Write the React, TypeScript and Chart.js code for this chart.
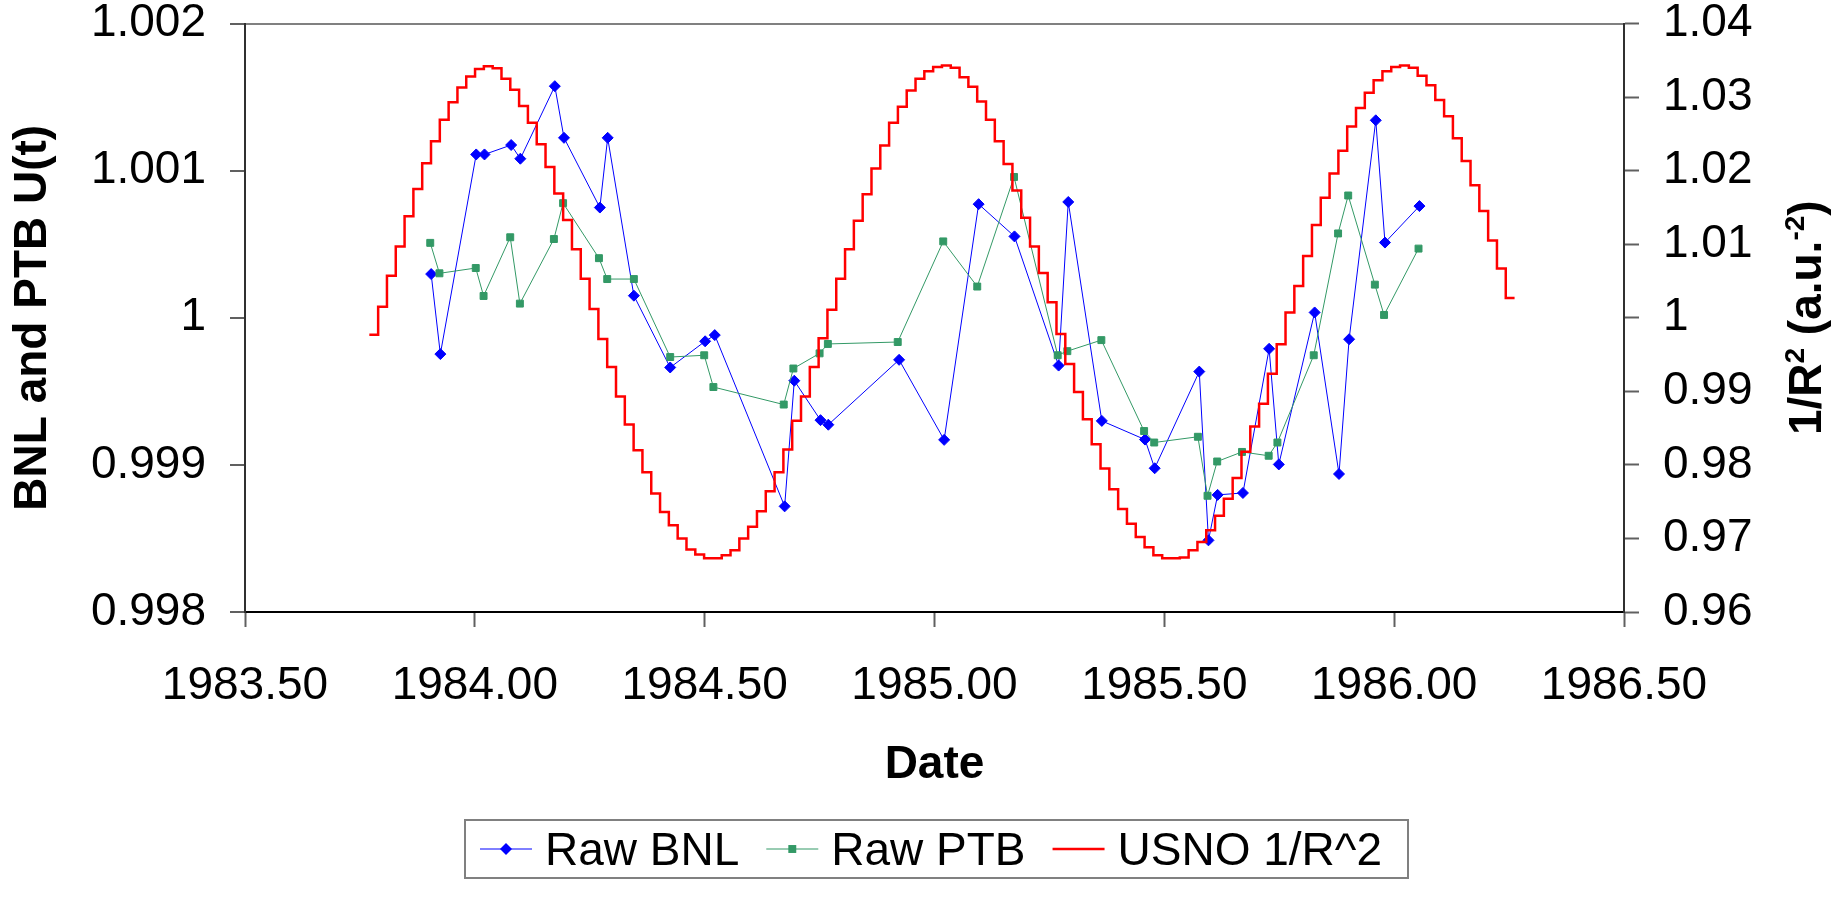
import React, { useEffect, useRef } from 'react';
import { Chart, registerables } from 'chart.js';

Chart.register(...registerables);

// ---------- data ----------
const SERIES_NAMES = ['Raw BNL', 'Raw PTB', 'USNO 1/R^2'];

const BNL_DATES = [
  1983.905, 1983.925, 1984.003, 1984.021, 1984.079, 1984.099, 1984.174, 1984.194,
  1984.272, 1984.289, 1984.346, 1984.425, 1984.501, 1984.522, 1984.674, 1984.695,
  1984.752, 1984.769, 1984.923, 1985.021, 1985.096, 1985.174, 1985.270, 1985.291,
  1985.364, 1985.458, 1985.479, 1985.576, 1985.596, 1985.616, 1985.671, 1985.728,
  1985.749, 1985.827, 1985.880, 1985.902, 1985.960, 1985.980, 1986.055,
];
const BNL_VALUES = [
  1.000297, 0.999753, 1.00111, 1.00111, 1.001174, 1.001081, 1.001574, 1.001223,
  1.000749, 1.001223, 1.00015, 0.999662, 0.99984, 0.999882, 0.998718, 0.999572,
  0.999304, 0.999273, 0.999714, 0.99917, 1.000772, 1.000553, 0.999675, 1.000787,
  0.999299, 0.999172, 0.998977, 0.999634, 0.998487, 0.998796, 0.998809, 0.999789,
  0.999003, 1.000036, 0.998938, 0.999854, 1.001342, 1.000511, 1.000759,
];

const PTB_DATES = [
  1983.903, 1983.923, 1984.002, 1984.019, 1984.077, 1984.098, 1984.172, 1984.192,
  1984.270, 1984.288, 1984.346, 1984.425, 1984.499, 1984.519, 1984.672, 1984.693,
  1984.750, 1984.768, 1984.920, 1985.019, 1985.093, 1985.173, 1985.268, 1985.289,
  1985.363, 1985.456, 1985.478, 1985.573, 1985.594, 1985.615, 1985.669, 1985.727,
  1985.746, 1985.825, 1985.878, 1985.900, 1985.958, 1985.978, 1986.053,
];
const PTB_VALUES = [
  1.000509, 1.000302, 1.000338, 1.000148, 1.000547, 1.000096, 1.000535, 1.000779,
  1.000405, 1.000263, 1.000263, 0.999733, 0.999745, 0.999529, 0.99941, 0.999655,
  0.999758, 0.999822, 0.999835, 1.000519, 1.000212, 1.000957, 0.999745, 0.999773,
  0.999848, 0.99923, 0.999152, 0.999191, 0.99879, 0.999023, 0.999088, 0.999062,
  0.999152, 0.999745, 1.000573, 1.000831, 1.000225, 1.000019, 1.00047,
];

// USNO 1/R^2: weekly step values (one value per week, starting at USNO_START)
const USNO_START = 1983.7705;
const USNO_WEEK = 7 / 365.25;
const USNO_VALUES = [
  0.9977, 1.0015, 1.0057, 1.0097, 1.0138, 1.0175, 1.0210, 1.0240, 1.0269, 1.0293,
  1.0313, 1.0328, 1.0338, 1.0342, 1.0339, 1.0325, 1.0310, 1.0288, 1.0265, 1.0236,
  1.0205, 1.0169, 1.0133, 1.0093, 1.0053, 1.0012, 0.9971, 0.9933, 0.9893, 0.9855,
  0.9820, 0.9790, 0.9761, 0.9736, 0.9718, 0.9700, 0.9685, 0.9678, 0.9673, 0.9673,
  0.9677, 0.9684, 0.9700, 0.9716, 0.9737, 0.9764, 0.9790, 0.9821, 0.9860, 0.9893,
  0.9933, 0.9972, 1.0011, 1.0053, 1.0093, 1.0132, 1.0168, 1.0203, 1.0234, 1.0265,
  1.0287, 1.0309, 1.0325, 1.0335, 1.0341, 1.0343, 1.0340, 1.0327, 1.0314, 1.0294,
  1.0269, 1.0240, 1.0209, 1.0173, 1.0136, 1.0097, 1.0061, 1.0021, 0.9978, 0.9937,
  0.9899, 0.9862, 0.9828, 0.9795, 0.9767, 0.9740, 0.9720, 0.9702, 0.9688, 0.9677,
  0.9673, 0.9673, 0.9674, 0.9684, 0.9695, 0.9711, 0.9731, 0.9754, 0.9782, 0.9818,
  0.9852, 0.9883, 0.9924, 0.9964, 1.0007, 1.0043, 1.0084, 1.0126, 1.0163, 1.0196,
  1.0227, 1.0260, 1.0285, 1.0306, 1.0323, 1.0335, 1.0341, 1.0343, 1.0340, 1.0329,
  1.0316, 1.0296, 1.0274, 1.0244, 1.0213, 1.0180, 1.0145, 1.0105, 1.0067, 1.0027,
];

const X_TICKS = [1983.5, 1984, 1984.5, 1985, 1985.5, 1986, 1986.5];
const X_TICK_LABELS = ['1983.50', '1984.00', '1984.50', '1985.00', '1985.50', '1986.00', '1986.50'];
const LEFT_TICKS = [0.998, 0.999, 1, 1.001, 1.002];
const LEFT_TICK_LABELS = ['0.998', '0.999', '1', '1.001', '1.002'];
const RIGHT_TICKS = [0.96, 0.97, 0.98, 0.99, 1, 1.01, 1.02, 1.03, 1.04];
const RIGHT_TICK_LABELS = ['0.96', '0.97', '0.98', '0.99', '1', '1.01', '1.02', '1.03', '1.04'];

// ---------- styling ----------
const FAMILY = '"Liberation Sans", Arial, Helvetica, sans-serif';
const W = 1845;
const H = 897;

const overlayPlugin = {
  id: 'overlay',
  afterDraw(chart: any) {
    const ctx: CanvasRenderingContext2D = chart.ctx;
    const area = chart.chartArea;
    const y1 = chart.scales.y1;

    // right axis title, reading bottom to top, with superscripts
    ctx.save();
    ctx.fillStyle = '#000';
    const big = `bold 46px ${FAMILY}`;
    const small = `bold 28px ${FAMILY}`;
    const parts = [
      { t: '1/R', sup: false },
      { t: '2', sup: true },
      { t: ' (a.u.', sup: false },
      { t: '-2', sup: true },
      { t: ')', sup: false },
    ];
    let total = 0;
    const widths: number[] = [];
    for (const p of parts) {
      ctx.font = p.sup ? small : big;
      const w = ctx.measureText(p.t).width;
      widths.push(w);
      total += w;
    }
    const cy = (area.top + area.bottom) / 2;
    ctx.translate(y1.right - 24, cy);
    ctx.rotate(-Math.PI / 2);
    ctx.textBaseline = 'alphabetic';
    ctx.textAlign = 'left';
    let tx = -total / 2;
    parts.forEach((p, i) => {
      ctx.font = p.sup ? small : big;
      ctx.fillText(p.t, tx, p.sup ? -17 : 0);
      tx += widths[i];
    });
    ctx.restore();

    // legend
    ctx.save();
    const boxTop = 820;
    const boxH = 58;
    const lineY = 849;
    const textY = 865;
    let x = 480;
    ctx.font = `46px ${FAMILY}`;
    ctx.textBaseline = 'alphabetic';
    ctx.textAlign = 'left';
    chart.data.datasets.forEach((ds: any) => {
      ctx.strokeStyle = ds.borderColor;
      ctx.lineWidth = ds.borderWidth;
      ctx.beginPath();
      ctx.moveTo(x, lineY);
      ctx.lineTo(x + 52, lineY);
      ctx.stroke();
      const mx = x + 26;
      ctx.fillStyle = ds.borderColor;
      if (ds.pointStyle === 'rectRot' && ds.pointRadius > 0) {
        const r = ds.pointRadius + 0.5;
        ctx.beginPath();
        ctx.moveTo(mx, lineY - r);
        ctx.lineTo(mx + r, lineY);
        ctx.lineTo(mx, lineY + r);
        ctx.lineTo(mx - r, lineY);
        ctx.closePath();
        ctx.fill();
      } else if (ds.pointStyle === 'rect' && ds.pointRadius > 0) {
        const s = ds.pointRadius * Math.SQRT1_2 + 0.5;
        ctx.fillRect(mx - s, lineY - s, 2 * s, 2 * s);
      }
      ctx.fillStyle = '#000';
      ctx.fillText(ds.label, x + 65, textY);
      const tw = ctx.measureText(ds.label).width;
      x = x + 65 + tw + 27;
    });
    ctx.strokeStyle = '#808080';
    ctx.lineWidth = 2;
    ctx.strokeRect(465, boxTop, 1408 - 465, boxH);
    ctx.restore();
  },
};

export default function App() {
  const ref = useRef<HTMLCanvasElement | null>(null);

  useEffect(() => {
    const canvas = ref.current;
    if (!canvas) return;

    const usnoData = USNO_VALUES.map((v, k) => ({ x: USNO_START + k * USNO_WEEK, y: v }));
    usnoData.push({
      x: USNO_START + USNO_VALUES.length * USNO_WEEK,
      y: USNO_VALUES[USNO_VALUES.length - 1],
    });

    const tickFont = { size: 46, family: FAMILY };
    const titleFont = { size: 46, family: FAMILY, weight: 'bold' as const };

    const chart = new Chart(canvas, {
      type: 'line',
      data: {
        datasets: [
          {
            label: SERIES_NAMES[0],
            data: BNL_DATES.map((d, i) => ({ x: d, y: BNL_VALUES[i] })),
            borderColor: '#0000FF',
            backgroundColor: '#0000FF',
            pointBackgroundColor: '#0000FF',
            pointBorderColor: '#0000FF',
            borderWidth: 1,
            pointStyle: 'rectRot',
            pointRadius: 5.5,
            pointBorderWidth: 1,
            tension: 0,
            yAxisID: 'y',
            order: 2,
          },
          {
            label: SERIES_NAMES[1],
            data: PTB_DATES.map((d, i) => ({ x: d, y: PTB_VALUES[i] })),
            borderColor: '#339966',
            backgroundColor: '#339966',
            pointBackgroundColor: '#339966',
            pointBorderColor: '#339966',
            borderWidth: 1,
            pointStyle: 'rect',
            pointRadius: 4.9,
            pointBorderWidth: 1,
            tension: 0,
            yAxisID: 'y',
            order: 1,
          },
          {
            label: SERIES_NAMES[2],
            data: usnoData,
            borderColor: '#FF0000',
            backgroundColor: '#FF0000',
            borderWidth: 2.5,
            pointRadius: 0,
            pointStyle: false as any,
            stepped: 'before',
            yAxisID: 'y1',
            order: 0,
          },
        ],
      } as any,
      options: {
        animation: false,
        responsive: false,
        devicePixelRatio: 1,
        events: [],
        layout: { padding: { top: 23.5, left: 0, right: 0, bottom: 0 } },
        plugins: {
          legend: { display: false },
          tooltip: { enabled: false },
        },
        scales: {
          x: {
            type: 'linear',
            min: 1983.5,
            max: 1986.5,
            afterBuildTicks: (s: any) => {
              s.ticks = X_TICKS.map((v) => ({ value: v }));
            },
            afterFit: (s: any) => {
              s.height = 285;
              s.paddingLeft = 0;
              s.paddingRight = 0;
            },
            ticks: {
              callback: (_v: any, i: number) => X_TICK_LABELS[i],
              font: tickFont,
              color: '#000',
              padding: 32,
              maxRotation: 0,
              autoSkip: false,
            },
            grid: {
              drawOnChartArea: false,
              drawTicks: true,
              tickLength: 15,
              tickColor: '#606060',
              tickWidth: 2,
            },
            border: { display: true, color: '#000', width: 2 },
            title: {
              display: true,
              text: 'Date',
              font: titleFont,
              color: '#000',
              padding: { top: 0, bottom: 104 },
            },
          },
          y: {
            type: 'linear',
            position: 'left',
            min: 0.998,
            max: 1.002,
            afterBuildTicks: (s: any) => {
              s.ticks = LEFT_TICKS.map((v) => ({ value: v }));
            },
            afterFit: (s: any) => {
              s.width = 245;
              s.paddingTop = 0;
              s.paddingBottom = 0;
            },
            ticks: {
              callback: (_v: any, i: number) => LEFT_TICK_LABELS[i],
              font: tickFont,
              color: '#000',
              padding: 24,
              autoSkip: false,
            },
            grid: {
              drawOnChartArea: true,
              color: (c: any) => (c.tick && c.tick.value === 1.002 ? '#808080' : 'rgba(0,0,0,0)'),
              lineWidth: 2,
              tickLength: 15,
              tickColor: '#606060',
              tickWidth: 2,
            },
            border: { display: true, color: '#303030', width: 2 },
            title: {
              display: true,
              text: 'BNL and PTB U(t)',
              font: titleFont,
              color: '#000',
              padding: { top: 6, bottom: 0 },
            },
          },
          y1: {
            type: 'linear',
            position: 'right',
            min: 0.96,
            max: 1.04,
            afterBuildTicks: (s: any) => {
              s.ticks = RIGHT_TICKS.map((v) => ({ value: v }));
            },
            afterFit: (s: any) => {
              s.width = 221;
              s.paddingTop = 0;
              s.paddingBottom = 0;
            },
            ticks: {
              callback: (_v: any, i: number) => RIGHT_TICK_LABELS[i],
              font: tickFont,
              color: '#000',
              padding: 24,
              autoSkip: false,
            },
            grid: {
              drawOnChartArea: false,
              tickLength: 15,
              tickColor: '#606060',
              tickWidth: 2,
            },
            border: { display: true, color: '#303030', width: 2 },
            title: { display: false },
          },
        },
      } as any,
      plugins: [overlayPlugin],
    });

    return () => chart.destroy();
  }, []);

  return (
    <div style={{ position: 'absolute', left: 0, top: 0, width: W, height: H, background: '#fff' }}>
      <canvas ref={ref} width={W} height={H} style={{ display: 'block', width: W, height: H }} />
    </div>
  );
}
